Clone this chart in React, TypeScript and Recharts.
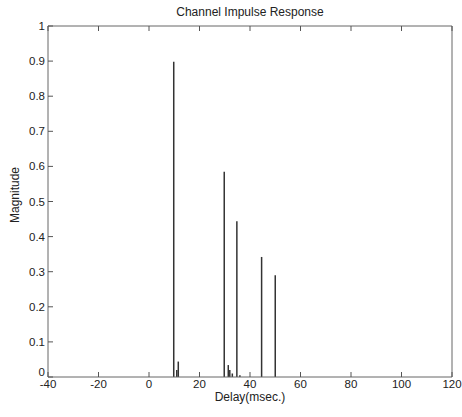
import React from 'react';
import { ComposedChart, Bar, XAxis, YAxis } from 'recharts';

const delays = [9.8, 11.0, 11.6, 29.8, 31.4, 32.0, 33.0, 34.8, 36.0, 44.6, 50.0];
const magnitudes = [0.898, 0.02, 0.044, 0.585, 0.034, 0.02, 0.01, 0.444, 0.005, 0.342, 0.29];
const xTicks = [-40, -20, 0, 20, 40, 60, 80, 100, 120];
const yTicks = [0, 0.1, 0.2, 0.3, 0.4, 0.5, 0.6, 0.7, 0.8, 0.9, 1];

const data = delays.map((d, i) => ({ delay: d, mag: magnitudes[i] }));

const FONT = '"Liberation Sans", Arial, sans-serif';
const INK = '#222';
const TL = 5;

const BottomTick = (props: any) => {
  const { x, y, payload } = props;
  return (
    <g>
      <line x1={x} y1={y} x2={x} y2={y - TL} stroke="#555" strokeWidth={1} />
      <text x={x} y={y + 11} textAnchor="middle" fontSize={11.5} fontFamily={FONT} fill={INK}>
        {payload.value}
      </text>
    </g>
  );
};
const TopTick = (props: any) => {
  const { x, y } = props;
  return <line x1={x} y1={y} x2={x} y2={y + TL} stroke="#555" strokeWidth={1} />;
};
const LeftTick = (props: any) => {
  const { x, y, payload } = props;
  const lift = payload.value === 0 ? -5 : 0;
  return (
    <g>
      <line x1={x} y1={y} x2={x + TL} y2={y} stroke="#555" strokeWidth={1} />
      <text x={x - 3} y={y + 4 + lift} textAnchor="end" fontSize={11.5} fontFamily={FONT} fill={INK}>
        {String(payload.value)}
      </text>
    </g>
  );
};
const RightTick = (props: any) => {
  const { x, y } = props;
  return <line x1={x} y1={y} x2={x - TL} y2={y} stroke="#555" strokeWidth={1} />;
};

export default function App() {
  return (
    <div style={{ position: 'absolute', left: 0, top: 0, width: 462, height: 417, background: '#fff' }}>
      <div
        style={{
          position: 'absolute', left: 0, width: 500, top: 5, textAlign: 'center',
          fontFamily: FONT, fontSize: 12, color: INK, lineHeight: '14px',
        }}
      >
        Channel Impulse Response
      </div>
      <div
        style={{
          position: 'absolute', left: 0, width: 500, top: 391, textAlign: 'center',
          fontFamily: FONT, fontSize: 12, color: INK, lineHeight: '12px',
        }}
      >
        Delay(msec.)
      </div>
      <div
        style={{
          position: 'absolute', left: 15, top: 195, width: 0, height: 0,
        }}
      >
        <div
          style={{
            position: 'absolute', left: -60, top: -7, width: 120, textAlign: 'center',
            fontFamily: FONT, fontSize: 12, color: INK, lineHeight: '14px',
            transform: 'rotate(-90deg)',
          }}
        >
          Magnitude
        </div>
      </div>
      <ComposedChart
        width={462}
        height={417}
        data={data}
        margin={{ top: 0, right: 0, bottom: 0, left: 0 }}
        style={{ position: 'absolute', left: 0, top: 0 }}
      >
        <XAxis
          xAxisId="b"
          dataKey="delay"
          type="number"
          domain={[-40, 120]}
          ticks={xTicks}
          orientation="bottom"
          height={40}
          tickSize={0}
          tickMargin={0}
          tickLine={false}
          tick={<BottomTick />}
          axisLine={{ stroke: '#666', strokeWidth: 1 }}
          interval={0}
        />
        <XAxis
          xAxisId="t"
          dataKey="delay"
          type="number"
          domain={[-40, 120]}
          ticks={xTicks}
          orientation="top"
          height={26}
          tickSize={0}
          tickMargin={0}
          tickLine={false}
          tick={<TopTick />}
          axisLine={{ stroke: '#666', strokeWidth: 1 }}
          interval={0}
        />
        <YAxis
          yAxisId="l"
          type="number"
          domain={[0, 1]}
          ticks={yTicks}
          orientation="left"
          width={48}
          tickSize={0}
          tickMargin={0}
          tickLine={false}
          tick={<LeftTick />}
          axisLine={{ stroke: '#666', strokeWidth: 1 }}
          interval={0}
        />
        <YAxis
          yAxisId="r"
          type="number"
          domain={[0, 1]}
          ticks={yTicks}
          orientation="right"
          width={10}
          tickSize={0}
          tickMargin={0}
          tickLine={false}
          tick={<RightTick />}
          axisLine={{ stroke: '#666', strokeWidth: 1 }}
          interval={0}
        />
        <Bar
          dataKey="mag"
          xAxisId="b"
          yAxisId="l"
          barSize={1.5}
          fill="#333"
          isAnimationActive={false}
        />
      </ComposedChart>
    </div>
  );
}
